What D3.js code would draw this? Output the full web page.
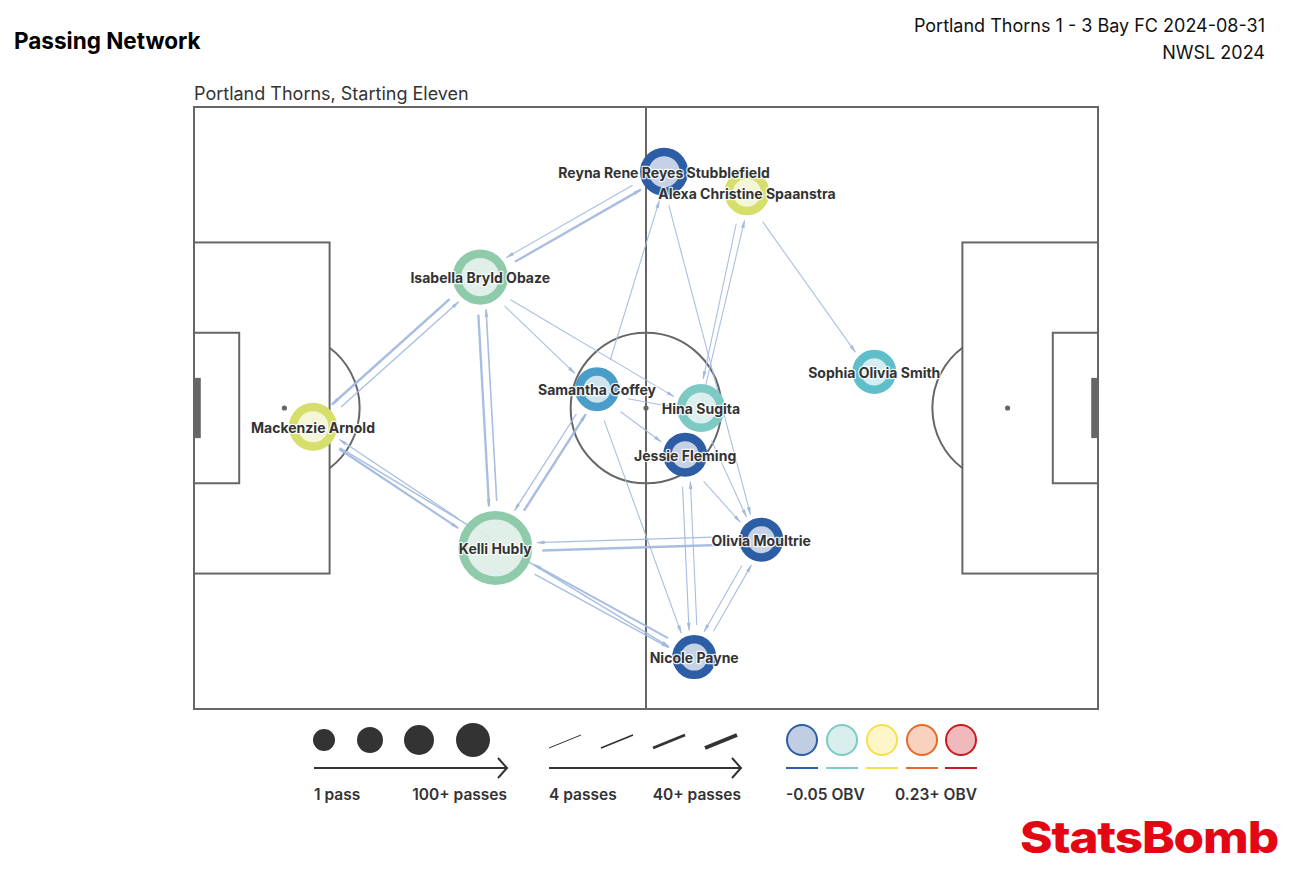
<!DOCTYPE html>
<html>
<head>
<meta charset="utf-8">
<script src="https://cdn.jsdelivr.net/npm/d3@7/dist/d3.min.js"></script>
<style>
  html, body { margin: 0; padding: 0; background: #fff; }
  svg { display: block; font-family: Inter, "Noto Sans", sans-serif; }
</style>
</head>
<body>
<script>
// ---------------- DATA ----------------
const players = ["Reyna Rene Reyes Stubblefield", "Alexa Christine Spaanstra", "Isabella Bryld Obaze",
  "Sophia Olivia Smith", "Mackenzie Arnold", "Samantha Coffey", "Hina Sugita", "Jessie Fleming",
  "Olivia Moultrie", "Kelli Hubly", "Nicole Payne"];
const playerX = [62.4, 73.4, 38.0, 90.3, 15.8, 53.5, 67.3, 65.2, 75.3, 40.0, 66.4];
const playerY = [8.6, 11.4, 22.6, 35.2, 42.5, 37.5, 40.0, 46.2, 57.5, 58.6, 73.1];
const playerPasses = [17, 11, 31, 9, 17, 9, 17, 9, 9, 68, 9];
const playerObv = [-0.07, 0.08, 0.05, 0.0, 0.08, -0.02, 0.02, -0.07, -0.07, 0.05, -0.07];

const edgeSource = ["Isabella Bryld Obaze", "Mackenzie Arnold", "Mackenzie Arnold", "Kelli Hubly", "Mackenzie Arnold",
  "Kelli Hubly", "Nicole Payne", "Isabella Bryld Obaze", "Kelli Hubly", "Isabella Bryld Obaze",
  "Reyna Rene Reyes Stubblefield", "Isabella Bryld Obaze", "Isabella Bryld Obaze", "Kelli Hubly", "Samantha Coffey",
  "Kelli Hubly", "Olivia Moultrie", "Samantha Coffey", "Reyna Rene Reyes Stubblefield", "Alexa Christine Spaanstra",
  "Jessie Fleming", "Alexa Christine Spaanstra", "Samantha Coffey", "Samantha Coffey", "Samantha Coffey",
  "Jessie Fleming", "Nicole Payne", "Jessie Fleming", "Hina Sugita", "Olivia Moultrie", "Nicole Payne"];
const edgeTarget = ["Mackenzie Arnold", "Isabella Bryld Obaze", "Kelli Hubly", "Mackenzie Arnold", "Nicole Payne",
  "Nicole Payne", "Kelli Hubly", "Kelli Hubly", "Isabella Bryld Obaze", "Reyna Rene Reyes Stubblefield",
  "Isabella Bryld Obaze", "Samantha Coffey", "Hina Sugita", "Samantha Coffey", "Kelli Hubly",
  "Olivia Moultrie", "Kelli Hubly", "Reyna Rene Reyes Stubblefield", "Olivia Moultrie", "Hina Sugita",
  "Alexa Christine Spaanstra", "Sophia Olivia Smith", "Hina Sugita", "Jessie Fleming", "Nicole Payne",
  "Nicole Payne", "Jessie Fleming", "Olivia Moultrie", "Olivia Moultrie", "Nicole Payne", "Olivia Moultrie"];
const edgePasses = [22, 8, 18, 7, 10,
  9, 14, 20, 11, 20,
  6, 5, 5, 22, 8,
  22, 7, 5, 5, 5,
  5, 5, 5, 5, 5,
  6, 5, 5, 5, 5, 5];

const obvStops = [-0.05, -0.02, 0.0, 0.02, 0.05, 0.08, 0.1, 0.165, 0.23];
const obvColors = ["#2c5da5", "#4a9dc9", "#5ebfca", "#7ccac3", "#8fcbab", "#d6df6c", "#f6e04b", "#e8692b", "#cc1a22"];
const legendObv = [-0.05, 0.02, 0.1, 0.165, 0.23];
const legendNodeSizes = [11, 13, 15, 17];
const legendEdgePasses = [4, 14, 27, 40];

// ---------------- SETUP ----------------
const W = 1292, H = 891;
const svg = d3.select("body").append("svg").attr("width", W).attr("height", H);

const x = d3.scaleLinear().domain([0, 120]).range([194, 1098]);
const y = d3.scaleLinear().domain([0, 80]).range([107, 709]);
const rScale = d3.scaleLinear().domain([1, 100]).range([20, 45]).clamp(true);
const wScale = d3.scaleLinear().domain([4, 40]).range([1, 4]).clamp(true);
const colorScale = d3.scaleLinear().domain(obvStops).range(obvColors).clamp(true);
const fillOf = v => d3.interpolateRgb(colorScale(v), "#ffffff")(0.7);

// Titles
svg.append("text").attr("x", 14).attr("y", 49).attr("font-size", 22.5).attr("font-weight", 700)
  .attr("fill", "#000").text("Passing Network");
svg.append("text").attr("x", 1265).attr("y", 32).attr("font-size", 18).attr("text-anchor", "end")
  .attr("fill", "#111").text("Portland Thorns 1 - 3 Bay FC 2024-08-31");
svg.append("text").attr("x", 1265).attr("y", 59).attr("font-size", 18).attr("text-anchor", "end")
  .attr("fill", "#111").text("NWSL 2024");
svg.append("text").attr("x", 194).attr("y", 100).attr("font-size", 18)
  .attr("fill", "#333").text("Portland Thorns, Starting Eleven");

// ---------------- PITCH ----------------
const pitch = svg.append("g").attr("fill", "none").attr("stroke", "#666").attr("stroke-width", 2);
const rectP = (x0, y0, x1, y1) => pitch.append("rect").attr("x", x(x0)).attr("y", y(y0))
  .attr("width", x(x1) - x(x0)).attr("height", y(y1) - y(y0));
rectP(0, 0, 120, 80);
pitch.append("line").attr("x1", x(60)).attr("x2", x(60)).attr("y1", y(0)).attr("y2", y(80));
rectP(0, 18, 18, 62);
rectP(102, 18, 120, 62);
rectP(0, 30, 6, 50);
rectP(114, 30, 120, 50);
const rc = x(10) - x(0);
pitch.append("circle").attr("cx", x(60)).attr("cy", y(40)).attr("r", rc);
pitch.append("path").attr("d", `M${x(18)},${y(32)} A${rc},${rc} 0 0 1 ${x(18)},${y(48)}`);
pitch.append("path").attr("d", `M${x(102)},${y(32)} A${rc},${rc} 0 0 0 ${x(102)},${y(48)}`);
[[60, 40], [12, 40], [108, 40]].forEach(p => {
  svg.append("circle").attr("cx", x(p[0])).attr("cy", y(p[1])).attr("r", 2.6).attr("fill", "#666");
});
svg.append("rect").attr("x", x(0)).attr("y", y(36)).attr("width", x(0.9) - x(0)).attr("height", y(44) - y(36)).attr("fill", "#666");
svg.append("rect").attr("x", x(119.1)).attr("y", y(36)).attr("width", x(120) - x(119.1)).attr("height", y(44) - y(36)).attr("fill", "#666");

// ---------------- NETWORK ----------------
const nodes = players.map((p, i) => ({
  name: p, px: x(playerX[i]), py: y(playerY[i]), r: rScale(playerPasses[i]), obv: playerObv[i]
}));
const byName = new Map(nodes.map(n => [n.name, n]));
const edges = edgeSource.map((s, i) => ({ s: byName.get(s), t: byName.get(edgeTarget[i]), n: edgePasses[i] }));

const edgeColor = "#a3badf";
const defs = svg.append("defs");
defs.append("marker").attr("id", "arr").attr("markerUnits", "userSpaceOnUse")
  .attr("viewBox", "0 0 10 6").attr("refX", 9).attr("refY", 3)
  .attr("markerWidth", 9).attr("markerHeight", 5).attr("orient", "auto")
  .append("path").attr("d", "M0,0.8 L10,3 L0,5.2 Z").attr("fill", edgeColor);

const gE = svg.append("g");
edges.forEach(e => {
  const dx = e.t.px - e.s.px, dy = e.t.py - e.s.py;
  const len = Math.hypot(dx, dy);
  const ux = dx / len, uy = dy / len;
  const ox = -uy * 4, oy = ux * 4;
  const x1 = e.s.px + ux * (e.s.r + 10) + ox, y1 = e.s.py + uy * (e.s.r + 10) + oy;
  const x2 = e.t.px - ux * (e.t.r + 5) + ox, y2 = e.t.py - uy * (e.t.r + 5) + oy;
  gE.append("line").attr("x1", x1).attr("y1", y1).attr("x2", x2).attr("y2", y2)
    .attr("stroke", edgeColor).attr("stroke-width", wScale(e.n)).attr("stroke-opacity", 0.95)
    .attr("marker-end", "url(#arr)");
});

const gN = svg.append("g");
nodes.forEach(n => {
  gN.append("circle").attr("cx", n.px).attr("cy", n.py).attr("r", n.r - 4.25)
    .attr("fill", fillOf(n.obv)).attr("fill-opacity", 0.92)
    .attr("stroke", colorScale(n.obv)).attr("stroke-width", 8.5);
});
nodes.forEach(n => {
  gN.append("text").attr("x", n.px).attr("y", n.py + 6).attr("text-anchor", "middle")
    .attr("font-size", 14).attr("font-weight", 700).attr("fill", "#333")
    .attr("stroke", "#fff").attr("stroke-width", 2.5).attr("stroke-opacity", 0.85)
    .attr("paint-order", "stroke").attr("stroke-linejoin", "round")
    .text(n.name);
});

// ---------------- LEGEND ----------------
const lg = svg.append("g");
const sizeX = [324, 370, 419, 473];
legendNodeSizes.forEach((r, i) => {
  lg.append("circle").attr("cx", sizeX[i]).attr("cy", 740).attr("r", r).attr("fill", "#333");
});
function arrow(x0, x1, yy) {
  lg.append("line").attr("x1", x0).attr("x2", x1).attr("y1", yy).attr("y2", yy)
    .attr("stroke", "#333").attr("stroke-width", 2);
  lg.append("path").attr("d", `M${x1 - 9},${yy - 10} L${x1},${yy} L${x1 - 9},${yy + 10}`)
    .attr("fill", "none").attr("stroke", "#333").attr("stroke-width", 2);
}
arrow(314, 507, 768);
arrow(549, 741, 768);
const legText = (tx, txt, anchor) => lg.append("text").attr("x", tx).attr("y", 800)
  .attr("font-size", 15.5).attr("font-weight", 600).attr("fill", "#333").attr("text-anchor", anchor).text(txt);
legText(314, "1 pass", "start");
legText(507, "100+ passes", "end");
legText(549, "4 passes", "start");
legText(741, "40+ passes", "end");
legText(786, "-0.05 OBV", "start");
legText(977, "0.23+ OBV", "end");

const lineX = [549, 601, 653, 705];
legendEdgePasses.forEach((p, i) => {
  lg.append("line").attr("x1", lineX[i]).attr("y1", 748).attr("x2", lineX[i] + 32).attr("y2", 735)
    .attr("stroke", "#333").attr("stroke-width", wScale(p));
});
const obvX = [802, 842, 882, 922, 961];
legendObv.forEach((v, i) => {
  lg.append("ellipse").attr("cx", obvX[i]).attr("cy", 740).attr("rx", 15).attr("ry", 15)
    .attr("fill", fillOf(v)).attr("stroke", colorScale(v)).attr("stroke-width", 2);
  lg.append("line").attr("x1", obvX[i] - 16).attr("x2", obvX[i] + 16).attr("y1", 768).attr("y2", 768)
    .attr("stroke", colorScale(v)).attr("stroke-width", 2);
});

// Logo
svg.append("text").attr("x", 1020).attr("y", 853).attr("font-size", 44).attr("font-weight", 800)
  .attr("fill", "#e30613").attr("textLength", 258).attr("lengthAdjust", "spacingAndGlyphs")
  .attr("letter-spacing", -1).text("StatsBomb");
</script>
</body>
</html>
